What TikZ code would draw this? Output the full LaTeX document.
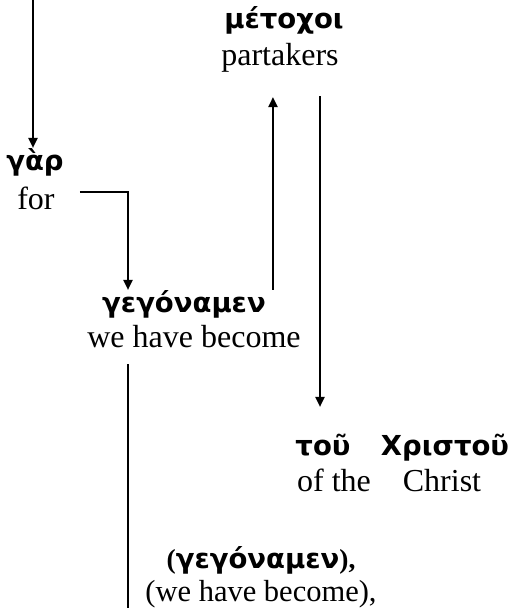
\documentclass[tikz,border=0pt]{standalone}
\usepackage{fontspec}
\setmainfont{Liberation Serif}
\newfontfamily\greekfont{DejaVu Sans}
\usetikzlibrary{arrows.meta}
\newcommand\bfrm[1]{{\rmfamily\bfseries #1}}
\tikzset{
  gk/.style={font={\fontsize{27.5}{30}\selectfont\greekfont\bfseries},
    inner sep=0pt, anchor=base, text height=22pt, text depth=8pt},
  en/.style={font={\fontsize{32}{36}\selectfont},
    inner sep=0pt, anchor=base, text height=22pt, text depth=8pt},
  arr/.style={-{Triangle[length=10pt,width=9.5pt]}, line width=1.2pt},
}
\begin{document}
\begin{tikzpicture}[x=1pt,y=-1pt]
  \useasboundingbox (0,0) rectangle (513,608);
  \path
    (284,28) node[gk] (metochoi){μέτοχοι}
    (280,65) node[en] (partakers){partakers}
    (35,170) node[gk] (gar){γὰρ}
    (36,209) node[en] (for){for}
    (184,312) node[gk] (gegonamen){γεγόναμεν}
    (194,347) node[en] (become){we have become}
    (323,455) node[gk] (tou){τοῦ}
    (445,455) node[gk] (christou){Χριστοῦ}
    (334,491) node[en] (ofthe){of the}
    (442,491) node[en] (christ){Christ}
    (261,568) node[gk] (gegonamen2){\bfrm{(}γεγόναμεν\bfrm{),}}
    (261,601) node[en, font={\fontsize{30.5}{34}\selectfont}] (become2){(we have become),};
  \coordinate (in) at (33,0);
  \coordinate (out) at (128,608);
  \coordinate (up) at ([xshift=7pt]gegonamen.north east);
  \coordinate (down) at ([xshift=-3pt]tou.north);
  \begin{scope}[arr]
    \draw (in) -- (in |- gar.north);
    \draw ([xshift=25pt,yshift=10pt]for.east) -| (out |- gegonamen.north);
    \draw[shorten >=24pt] (up) -- (up |- partakers.south);
    \draw[shorten <=23pt, shorten >=26pt] (down |- partakers.south) -- (down);
    \draw[-, shorten <=9pt] (out |- become.south) -- (out);
  \end{scope}
\end{tikzpicture}
\end{document}
